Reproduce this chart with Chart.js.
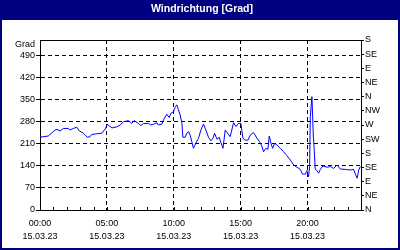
<!DOCTYPE html>
<html>
<head>
<meta charset="utf-8">
<script src="https://cdn.jsdelivr.net/npm/chart.js@4"></script>
<style>
  html, body { margin: 0; padding: 0; background: #000080; }
  canvas { display: block; }
</style>
</head>
<body>
<canvas id="chart" width="400" height="250"></canvas>
<script>
const TITLE = 'Windrichtung [Grad]';
const UNIT = 'Grad';
const DATE = '15.03.23';

// time of day in hours, wind direction in degrees
const HOURS = [
  0.00, 0.62, 1.12, 1.27, 1.50, 1.74, 2.12, 2.25, 2.49, 2.75, 2.92, 3.24, 3.54, 3.74, 3.87, 4.24,
  4.62, 4.87, 5.04, 5.24, 5.41, 5.74, 5.99, 6.24, 6.61, 6.86, 7.04, 7.36, 7.54, 7.73, 8.11, 8.29,
  8.48, 8.74, 8.85, 9.11, 9.23, 9.48, 9.66, 9.78, 9.98, 10.10, 10.23, 10.35, 10.48, 10.61, 10.68, 10.85,
  10.98, 11.10, 11.23, 11.35, 11.47, 11.65, 11.85, 12.03, 12.22, 12.40, 12.60, 12.78, 12.93, 13.05, 13.23, 13.40,
  13.53, 13.68, 13.85, 14.02, 14.22, 14.47, 14.65, 14.84, 15.02, 15.17, 15.34, 15.55, 15.72, 15.97, 16.22, 16.41,
  16.59, 16.71, 16.89, 17.04, 17.14, 17.27, 17.39, 17.54, 17.72, 17.96, 18.21, 18.47, 18.71, 18.96, 19.21, 19.46,
  19.63, 19.84, 19.96, 20.08, 20.16, 20.21, 20.33, 20.38, 20.43, 20.49, 20.58, 20.71, 20.83, 20.96, 21.16, 21.46,
  21.71, 21.95, 22.21, 22.46, 22.83, 23.20, 23.45, 23.58, 23.71, 23.83, 23.95
];
const DIRECTION = [
  231, 235, 254, 256, 251, 259, 259, 254, 259, 263, 252, 244, 231, 233, 240, 242,
  244, 257, 272, 265, 261, 264, 270, 280, 284, 275, 284, 275, 268, 275, 275, 270,
  272, 277, 270, 273, 286, 304, 294, 307, 312, 326, 334, 318, 302, 275, 231, 231,
  244, 249, 238, 217, 196, 212, 228, 254, 273, 254, 231, 220, 228, 244, 225, 231,
  214, 196, 254, 244, 233, 277, 265, 275, 275, 228, 222, 222, 238, 246, 228, 217,
  203, 185, 196, 193, 235, 212, 196, 212, 206, 196, 185, 172, 159, 143, 136, 129,
  114, 114, 125, 106, 138, 296, 360, 302, 238, 201, 129, 125, 117, 129, 140, 136,
  138, 132, 143, 130, 129, 127, 129, 114, 101, 127, 138
];

const DEGREE_TICKS = [0, 70, 140, 210, 280, 350, 420, 490];
const COMPASS_TICKS = [0, 45, 90, 135, 180, 225, 270, 315, 360, 405, 450, 495, 540];
const COMPASS_LABELS = ['N', 'NE', 'E', 'SE', 'S', 'SW', 'W', 'NW', 'N', 'NE', 'E', 'SE', 'S'];
const LABEL_HOURS = [0, 5, 10, 15, 20];

const FONT = '"Liberation Sans", Arial, sans-serif';

const frame = {
  id: 'frame',
  beforeDraw(chart) {
    const { ctx, width, height } = chart;
    ctx.save();
    ctx.fillStyle = '#000080';
    ctx.fillRect(0, 0, width, height);
    ctx.fillStyle = '#ffffff';
    ctx.fillRect(2, 20, width - 4, height - 22);
    ctx.font = 'bold 10.5px ' + FONT;
    ctx.textAlign = 'center';
    ctx.textBaseline = 'middle';
    ctx.fillText(TITLE, width / 2 + 2, 9);
    ctx.restore();
  },
  afterDraw(chart) {
    const { ctx, chartArea: a, scales: { x } } = chart;
    ctx.save();
    ctx.strokeStyle = '#000';
    ctx.lineWidth = 1;
    ctx.beginPath();
    ctx.moveTo(a.left, Math.round(a.top) + 0.5);
    ctx.lineTo(a.right, Math.round(a.top) + 0.5);
    // small hour ticks pointing up from the time axis
    x.ticks.forEach(t => {
      const px = Math.round(x.getPixelForValue(t.value)) + 0.5;
      ctx.moveTo(px, a.bottom);
      ctx.lineTo(px, a.bottom - 3);
    });
    ctx.stroke();
    ctx.fillStyle = '#000';
    ctx.font = '9px ' + FONT;
    ctx.textAlign = 'right';
    ctx.textBaseline = 'middle';
    ctx.fillText(UNIT, a.left - 5, a.top + 4.5);
    ctx.restore();
  }
};

new Chart(document.getElementById('chart'), {
  type: 'line',
  data: {
    datasets: [{
      data: HOURS.map((h, i) => ({ x: h, y: DIRECTION[i] })),
      borderColor: '#0000ff',
      borderWidth: 1,
      pointRadius: 0,
      tension: 0,
      yAxisID: 'y'
    }]
  },
  options: {
    responsive: false,
    animation: false,
    events: [],
    layout: { padding: { top: 40 } },
    plugins: { legend: { display: false }, tooltip: { enabled: false } },
    scales: {
      x: {
        type: 'linear',
        min: 0,
        max: 24,
        afterFit: s => { s.height = 40; },
        ticks: {
          stepSize: 1,
          autoSkip: false,
          maxRotation: 0,
          padding: 7,
          color: '#000',
          font: { family: FONT, size: 9, lineHeight: '13px' },
          callback: v => LABEL_HOURS.includes(v) ? [String(v).padStart(2, '0') + ':00', DATE] : ''
        },
        grid: {
          drawTicks: false,
          color: c => (c.tick && c.tick.value % 5 === 0 && c.tick.value > 0 && c.tick.value < 24) ? '#000' : 'rgba(0,0,0,0)'
        },
        border: { display: true, color: '#000', dash: [4, 3] }
      },
      y: {
        position: 'left',
        min: 0,
        max: 540,
        afterFit: s => { s.width = 40; },
        afterBuildTicks: s => { s.ticks = DEGREE_TICKS.map(v => ({ value: v })); },
        ticks: {
          padding: 1,
          color: '#000',
          font: { family: FONT, size: 9 }
        },
        grid: { color: '#000', tickColor: '#000', tickLength: 4 },
        border: { display: true, color: '#000', dash: [4, 3] }
      },
      compass: {
        position: 'right',
        min: 0,
        max: 540,
        afterFit: s => { s.width = 39; },
        afterBuildTicks: s => { s.ticks = COMPASS_TICKS.map(v => ({ value: v })); },
        ticks: {
          padding: 1,
          color: '#000',
          font: { family: FONT, size: 9 },
          callback: (v, i) => COMPASS_LABELS[i]
        },
        grid: { drawOnChartArea: false, color: '#000', tickLength: 3 },
        border: { display: true, color: '#000' }
      }
    }
  },
  plugins: [frame]
});
</script>
</body>
</html>
